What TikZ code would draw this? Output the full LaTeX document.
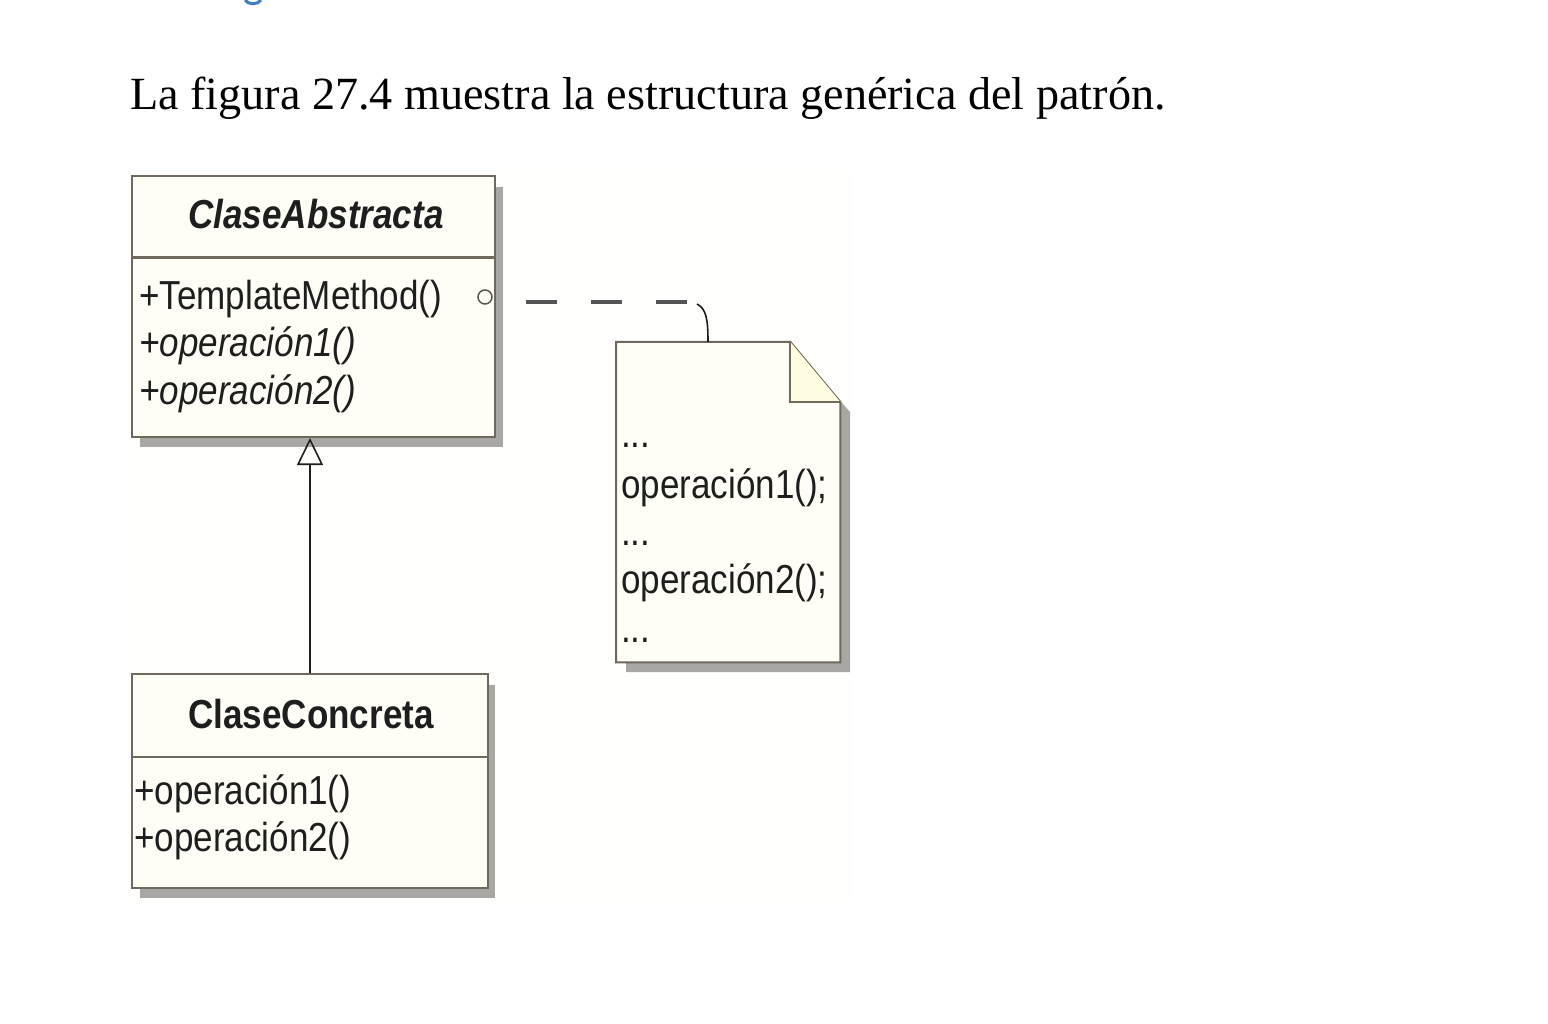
\documentclass[tikz,border=0pt]{standalone}
\usepackage{fontspec}
\setmainfont{Liberation Serif}
\newfontfamily\umlfont[FakeStretch=0.865]{Liberation Sans}
\usetikzlibrary{calc,arrows.meta}
\definecolor{boxline}{RGB}{112,104,92}
\definecolor{boxfill}{RGB}{255,254,246}
\definecolor{shadowc}{RGB}{168,167,163}
\definecolor{linkc}{RGB}{85,85,85}
\definecolor{headblue}{RGB}{61,124,192}
\definecolor{imgbg}{RGB}{254,254,252}
\definecolor{txt}{RGB}{30,30,30}
\begin{document}
\begin{tikzpicture}[x=1pt,y=-1pt,
  umlbox/.style={draw=boxline, fill=boxfill, line width=2pt, rectangle, inner sep=0pt, anchor=north west},
  shadowfill/.style={fill=shadowc},
  divider/.style={draw=boxline, line width=3pt},
  umltxt/.style={font=\umlfont\fontsize{40.5}{48}\selectfont, inner sep=0pt, anchor=base west, text=txt},
  umlital/.style={umltxt, font=\umlfont\fontsize{40.5}{48}\selectfont\itshape},
  umltitle/.style={umltxt, anchor=base, font=\umlfont\fontsize{40.5}{48}\selectfont\bfseries},
  linkline/.style={draw=linkc, line width=4pt},
  inherit/.style={draw=txt, line width=1.6pt, -{Triangle[open, width=26pt, length=27pt, line width=1.6pt]}}
]
\useasboundingbox (0,0) rectangle (1548,1024);
\fill[white] (0,0) rectangle (1548,1024);
\fill[imgbg] (128,170) rectangle (852,902);

% cut heading fragment
\draw[headblue, line width=3pt] (245,0) .. controls (248,5) and (258,5) .. (261,0);

% caption
\node[font=\fontsize{46.15}{56}\selectfont, inner sep=0pt, anchor=base west] (cap) at (130,110)
  {La figura 27.4 muestra la estructura genérica del patrón.};

% shadows
\fill[shadowfill] (140,187) rectangle (503,447);
\fill[shadowfill] (140,685) rectangle (495,898);
\fill[shadowfill] (626,354) -- (799,354) -- (850,412) -- (850,672) -- (626,672) -- cycle;

% ClaseAbstracta
\node[umlbox, minimum width=363, minimum height=261] (ca) at (131,175) {};
\draw[divider] ($(ca.north west)+(0,83)$) -- ($(ca.north east)+(0,83)$);
\node[umltitle, font=\umlfont\fontsize{40.5}{48}\selectfont\bfseries\itshape] (catitle) at (316,229) {ClaseAbstracta};
\node[umltxt] (caop0) at (139,310) {+TemplateMethod()};
\node[umlital] (caop1) at (139,357) {+operación1()};
\node[umlital] (caop2) at (139,404) {+operación2()};
\node[circle, draw=linkc, line width=1.5pt, minimum size=14pt, inner sep=0pt] (lnk) at (485,297) {};

% ClaseConcreta
\node[umlbox, minimum width=356, minimum height=214] (cc) at (131,673) {};
\draw[boxline, line width=2pt] ($(cc.north west)+(0,84)$) -- ($(cc.north east)+(0,84)$);
\node[umltitle] (cctitle) at (311,728) {ClaseConcreta};
\node[umltxt] (ccop1) at (134,804) {+operación1()};
\node[umltxt] (ccop2) at (134,851) {+operación2()};

% note
\node[inner sep=0pt, minimum width=224, minimum height=320, anchor=north west] (note) at (616,342) {};
\draw[draw=boxline, fill=boxfill, line width=2pt]
  (note.north west) -- ($(note.north east)+(-50,0)$) -- ($(note.north east)+(0,60)$)
  -- (note.south east) -- (note.south west) -- cycle;
\draw[draw=boxline, fill=boxfill!92!yellow, line width=2pt]
  ($(note.north east)+(-50,0)$) -- ($(note.north east)+(-50,60)$) -- ($(note.north east)+(0,60)$);
\node[umltxt] (nt1) at (621,447) {...};
\node[umltxt] (nt2) at (621,498) {operación1();};
\node[umltxt] (nt3) at (621,545) {...};
\node[umltxt] (nt4) at (621,593) {operación2();};
\node[umltxt] (nt5) at (621,642) {...};

% note link
\coordinate (dashend) at ($(note.north west)+(74,-40)$);
\draw[linkline, dash pattern=on 31pt off 34pt] ($(lnk.east)+(33,5)$) -- (dashend);
\draw[draw=txt, line width=1.6pt] ($(note.north west)+(81,-38)$) .. controls ($(note.north west)+(90,-33)$) and ($(note.north west)+(92,-24)$) .. ($(note.north west)+(92,0)$);

% inheritance
\draw[inherit] (cc.north) -- (cc.north |- ca.south);
\end{tikzpicture}
\end{document}
